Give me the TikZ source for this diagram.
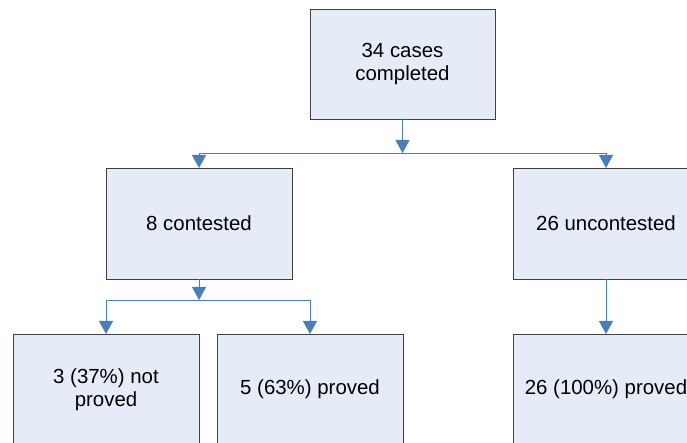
\documentclass[tikz,border=0pt]{standalone}
\usepackage{fontspec}
\setmainfont{Liberation Sans}
\usetikzlibrary{arrows.meta}
\definecolor{boxfill}{HTML}{E6ECF7}
\definecolor{linkblue}{HTML}{4A7EBB}
\definecolor{boxline}{HTML}{404040}
\begin{document}
\begin{tikzpicture}[x=1bp,y=-1bp,
  box/.style={draw=boxline, line width=0.9bp, fill=boxfill, minimum width=186bp, minimum height=111bp, inner sep=0pt, outer sep=0pt, align=center, font=\fontsize{20.5}{23.5}\selectfont},
  link/.style={draw=linkblue, line width=0.9bp},
  arr/.style={link, -{Triangle[length=13bp,width=14bp]}}
]
\useasboundingbox (0,0) rectangle (687,443);
\clip (0,0) rectangle (687,443);
\node[box, minimum width=185bp, minimum height=110bp] (top) at (402.5,64) {34 cases\\completed};
\node[box] (midL) at (199,223.5) {8 contested};
\node[box] (midR) at (606,223.5) {26 uncontested};
\node[box] (botL) at (106,389.5) {3 (37\%) not\\proved};
\node[box] (botM) at (310,389.5) {5 (63\%) proved};
\node[box] (botR) at (606,389.5) {26 (100\%) proved};
\coordinate (j1) at (402.5,153);
\coordinate (j1L) at (199,153);
\coordinate (j1R) at (606,153);
\coordinate (j2) at (199,300);
\coordinate (j2L) at (106,300);
\coordinate (j2R) at (310,300);
\draw[arr] (top.south) -- (j1);
\draw[link] (j1L) -- (j1R);
\draw[arr] (j1L) -- (midL.north);
\draw[arr] (j1R) -- (midR.north);
\draw[arr] (midL.south) -- (j2);
\draw[link] (j2L) -- (j2R);
\draw[arr] (j2L) -- (botL.north);
\draw[arr] (j2R) -- (botM.north);
\draw[arr] (midR.south) -- (botR.north);
\end{tikzpicture}
\end{document}
